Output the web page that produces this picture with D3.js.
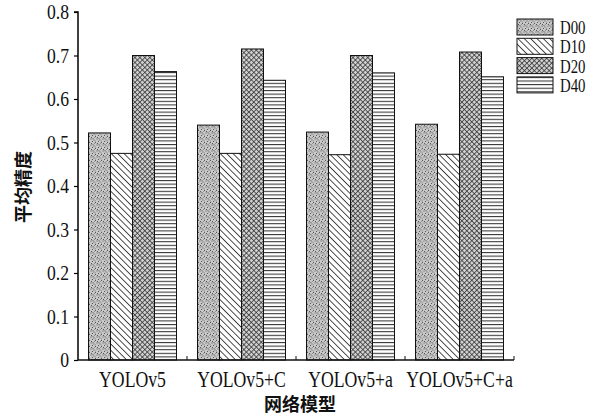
<!DOCTYPE html>
<html>
<head>
<meta charset="utf-8">
<script src="https://cdn.jsdelivr.net/npm/d3@7"></script>
<style>
  body { margin: 0; background: #fff; }
  text { font-family: "Liberation Serif", "DejaVu Serif", serif; fill: #111; }
  .cjk { font-family: "Noto Sans CJK SC", sans-serif; font-weight: bold; }
</style>
</head>
<body>
<svg width="604" height="420"></svg>
<script>
const models = ["YOLOv5", "YOLOv5+C", "YOLOv5+a", "YOLOv5+C+a"];
const seriesNames = ["D00", "D10", "D20", "D40"];
const d00 = [0.522, 0.540, 0.524, 0.542];
const d10 = [0.475, 0.475, 0.472, 0.473];
const d20 = [0.700, 0.715, 0.700, 0.708];
const d40 = [0.663, 0.643, 0.660, 0.651];
const yTicks = [0, 0.1, 0.2, 0.3, 0.4, 0.5, 0.6, 0.7, 0.8];

const svg = d3.select("svg");
const plotL = 78, plotR = 514, plotT = 12, plotB = 360;

// narrow, tall serif text like the scanned figure
function label(parent, x, y, str, anchor, fs, sx) {
  return parent.append("text")
    .attr("transform", `translate(${x},${y}) scale(${sx},1)`)
    .attr("text-anchor", anchor).attr("font-size", fs).text(str);
}

// fill patterns
const defs = svg.append("defs");
const p0 = defs.append("pattern").attr("id", "p0").attr("patternUnits", "userSpaceOnUse")
  .attr("width", 6).attr("height", 6);
p0.append("rect").attr("width", 6).attr("height", 6).attr("fill", "#c8c8c8");
[[0.5,0.5],[3.5,1.5],[2,3],[5,4],[1,5],[4,5.5],[2.5,0.2],[5.5,2.5]].forEach(([x, y]) =>
  p0.append("rect").attr("x", x).attr("y", y).attr("width", 1).attr("height", 1).attr("fill", "#555"));

const p1 = defs.append("pattern").attr("id", "p1").attr("patternUnits", "userSpaceOnUse")
  .attr("width", 4.5).attr("height", 4.5).attr("patternTransform", "rotate(-45)");
p1.append("rect").attr("width", 4.5).attr("height", 4.5).attr("fill", "#fff");
p1.append("line").attr("x1", 0).attr("y1", 0).attr("x2", 0).attr("y2", 4.5)
  .attr("stroke", "#222").attr("stroke-width", 1.6);

const p2 = defs.append("pattern").attr("id", "p2").attr("patternUnits", "userSpaceOnUse")
  .attr("width", 3.5).attr("height", 3.5).attr("patternTransform", "rotate(45)");
p2.append("rect").attr("width", 3.5).attr("height", 3.5).attr("fill", "#d0d0d0");
p2.append("line").attr("x1", 0).attr("y1", 0).attr("x2", 0).attr("y2", 3.5)
  .attr("stroke", "#2a2a2a").attr("stroke-width", 1.4);
p2.append("line").attr("x1", 0).attr("y1", 0).attr("x2", 3.5).attr("y2", 0)
  .attr("stroke", "#2a2a2a").attr("stroke-width", 1.4);

const p3 = defs.append("pattern").attr("id", "p3").attr("patternUnits", "userSpaceOnUse")
  .attr("width", 4).attr("height", 3.6);
p3.append("rect").attr("width", 4).attr("height", 3.6).attr("fill", "#fff");
p3.append("line").attr("x1", 0).attr("y1", 0.5).attr("x2", 4).attr("y2", 0.5)
  .attr("stroke", "#333").attr("stroke-width", 1.1);

const fills = ["url(#p0)", "url(#p1)", "url(#p2)", "url(#p3)"];

const x = d3.scaleBand().domain(models).range([plotL, plotR]);
const xi = d3.scaleBand().domain(seriesNames).range([10.5, x.bandwidth() - 10.5]);
const y = d3.scaleLinear().domain([0, 0.8]).range([plotB, plotT]);

const rows = models.map((m, i) => ({ m, vals: [d00[i], d10[i], d20[i], d40[i]] }));

const g = svg.append("g").selectAll("g").data(rows).enter().append("g")
  .attr("transform", d => `translate(${x(d.m)},0)`);
g.selectAll("rect").data(d => d.vals.map((v, k) => ({ v, k }))).enter().append("rect")
  .attr("x", d => xi(seriesNames[d.k]))
  .attr("width", xi.bandwidth())
  .attr("y", d => y(d.v))
  .attr("height", d => y(0) - y(d.v))
  .attr("fill", d => fills[d.k])
  .attr("stroke", "#111").attr("stroke-width", 1);

// y axis
const ya = svg.append("g").attr("transform", `translate(${plotL},0)`)
  .call(d3.axisLeft(y).tickValues(yTicks).tickSize(4).tickFormat(""));
ya.select(".domain").attr("d", `M-4,${plotT}H0V${plotB}`).attr("stroke-width", 1.5);
ya.selectAll(".tick line").attr("stroke-width", 1.2);
yTicks.forEach(t => label(svg, 69, y(t) + 7, t === 0 ? "0" : d3.format(".1f")(t), "end", 21, 0.84));

// x axis
const xa = svg.append("g").attr("transform", `translate(0,${plotB})`);
xa.append("line").attr("x1", plotL).attr("x2", plotR).attr("stroke", "#111").attr("stroke-width", 1.5);
xa.selectAll("line.t").data(models.slice(1).map(m => x(m)).concat([plotR])).enter().append("line")
  .attr("class", "t").attr("x1", d => d).attr("x2", d => d).attr("y1", 0).attr("y2", -4)
  .attr("stroke", "#111");
models.forEach(m => label(xa, x(m) + x.bandwidth() / 2, 27, m, "middle", 23, 0.77));

svg.append("text").attr("class", "cjk").attr("x", 300).attr("y", 411)
  .attr("text-anchor", "middle").attr("font-size", 18).text("网络模型");
svg.append("text").attr("class", "cjk")
  .attr("transform", "translate(30,187) rotate(-90)")
  .attr("text-anchor", "middle").attr("font-size", 18).text("平均精度");

// legend
const lg = svg.append("g").selectAll("g").data(seriesNames).enter().append("g")
  .attr("transform", (d, i) => `translate(517,${19 + i * 19.3})`);
lg.append("rect").attr("width", 36).attr("height", 16)
  .attr("fill", (d, i) => fills[i]).attr("stroke", "#111");
lg.each(function (d) { label(d3.select(this), 43, 15, d, "start", 19, 0.78); });
</script>
</body>
</html>
